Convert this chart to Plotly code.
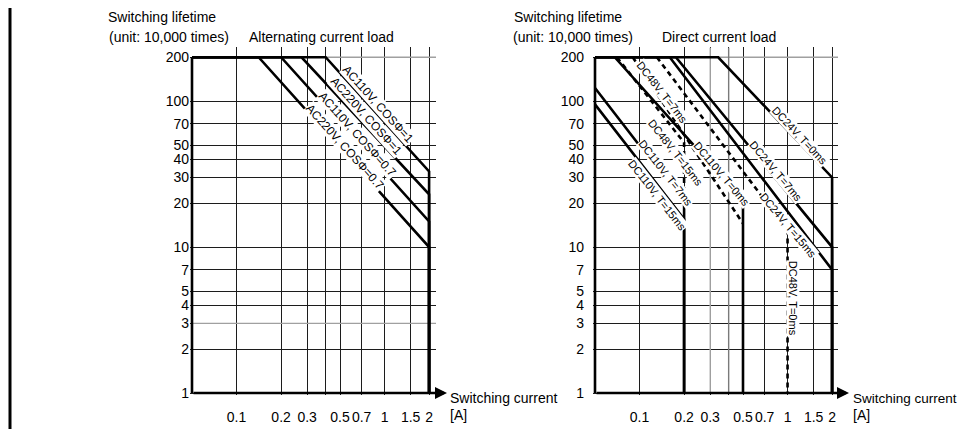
import numpy as np
import plotly.graph_objects as go

# ---------------- data ----------------
x_ticks = [0.1, 0.2, 0.3, 0.4, 0.5, 0.7, 1, 1.5, 2]
x_tick_labels = ["0.1", "0.2", "0.3", "", "0.5", "0.7", "1", "1.5", "2"]
y_ticks = [1, 2, 3, 4, 5, 7, 10, 20, 30, 40, 50, 70, 100, 200]
y_tick_labels = ["1", "2", "3", "4", "5", "7", "10", "20", "30", "40", "50", "70", "100", "200"]

# Alternating current load (switching current [A], lifetime [10^4 times])
ac110_cos1_x = [0.05, 0.4, 2, 2]
ac110_cos1_y = [200, 200, 33, 1]
ac220_cos1_x = [0.05, 0.275, 2, 2]
ac220_cos1_y = [200, 200, 23, 1]
ac110_cos07_x = [0.05, 0.2, 2, 2]
ac110_cos07_y = [200, 200, 15, 1]
ac220_cos07_x = [0.05, 0.141, 2, 2]
ac220_cos07_y = [200, 200, 10, 1]

# Direct current load
dc24_t0_x = [0.05, 0.34, 2, 2]
dc24_t0_y = [200, 200, 30, 1]
dc24_t7_x = [0.05, 0.176, 2, 2]
dc24_t7_y = [200, 200, 10, 1]
dc24_t15_x = [0.05, 0.16, 2, 2]
dc24_t15_y = [200, 200, 7, 1]
dc110_t0_x = [0.05, 0.068, 0.5, 0.5]
dc110_t0_y = [200, 200, 21, 1]
dc110_t7_x = [0.05, 0.2, 0.2]
dc110_t7_y = [123, 20, 1]
dc110_t15_x = [0.05, 0.2, 0.2]
dc110_t15_y = [95, 15.5, 1]
dc48_t0_x = [0.131, 1, 1]
dc48_t0_y = [200, 13, 1]
dc48_t7_x = [0.09, 0.5]
dc48_t7_y = [200, 14.5]
dc48_t15_x = [0.0704, 0.2, 0.2]
dc48_t15_y = [200, 52, 20]

# ---------------- layout helpers ----------------
# the page body has an 8px margin, so the figure is placed at (8, 8)
OX, OY = 8, 8
W, H = 965 - OX, 443 - 2 * OY
PX_DEC = 148.0
FONT = "Liberation Sans, Arial, sans-serif"


def px(x):
    return (x - OX) / W


def py(y):
    return (H - (y - OY)) / H


fig = go.Figure()

X_LO = np.log10(0.05) - 2 / PX_DEC
Y_LO = -2 / PX_DEC
Y_HI = (398.5 - 48) / PX_DEC
left_dom = [px(190), px(436)]
right_dom = [px(593), px(838)]
y_dom = [py(400.5), py(48)]

axis_common = dict(type="log", showgrid=True, gridcolor="#1c1c1c", gridwidth=1.3,
                   zeroline=False, showline=False, ticks="", tickangle=0,
                   tickfont=dict(family=FONT, size=14, color="black"))

fig.update_layout(
    width=W, height=H, margin=dict(l=0, r=0, t=0, b=0),
    paper_bgcolor="white", plot_bgcolor="white", showlegend=False,
    xaxis=dict(axis_common, domain=left_dom, range=[X_LO, X_LO + 246 / PX_DEC],
               tickvals=x_ticks, ticktext=x_tick_labels, anchor="y", ticklabelstandoff=12),
    yaxis=dict(axis_common, domain=y_dom, range=[Y_LO, Y_HI],
               tickvals=y_ticks, ticktext=y_tick_labels, anchor="x", ticklabelstandoff=0),
    xaxis2=dict(axis_common, domain=right_dom, range=[X_LO, X_LO + 245 / PX_DEC],
                tickvals=x_ticks, ticktext=x_tick_labels, anchor="y2", ticklabelstandoff=12),
    yaxis2=dict(axis_common, domain=y_dom, range=[Y_LO, Y_HI],
                tickvals=y_ticks, ticktext=y_tick_labels, anchor="x2", ticklabelstandoff=8),
)

GRAY = "#a0a0a0"


def line(xs, ys, ax, width=2.6, dash="solid", color="black"):
    xa, ya = ("x", "y") if ax == 1 else ("x2", "y2")
    fig.add_trace(go.Scatter(x=xs, y=ys, mode="lines", xaxis=xa, yaxis=ya,
                             line=dict(color=color, width=width, dash=dash),
                             hoverinfo="skip"))


X_TOP = 10 ** (X_LO + 246 / PX_DEC)
Y_TOP = 10 ** Y_HI
# lighter grid lines
line([0.05, X_TOP], [200, 200], 1, width=1.4, color=GRAY)
line([0.05, X_TOP], [3, 3], 1, width=1.4, color=GRAY)
line([0.05, X_TOP], [200, 200], 2, width=1.4, color=GRAY)
line([0.3, 0.3], [1, Y_TOP], 2, width=1.4, color="#b5b5b5")
line([0.4, 0.4], [1, Y_TOP], 2, width=1.4, color="#7a7a7a")

# axis lines
for a in (1, 2):
    line([0.05, 0.05], [1, 200], a, width=2.6)

# AC curves
line(ac110_cos1_x, ac110_cos1_y, 1)
line(ac220_cos1_x, ac220_cos1_y, 1)
line(ac110_cos07_x, ac110_cos07_y, 1)
line(ac220_cos07_x, ac220_cos07_y, 1)

# DC curves
line(dc24_t0_x, dc24_t0_y, 2)
line(dc24_t7_x, dc24_t7_y, 2)
line(dc24_t15_x, dc24_t15_y, 2)
line(dc110_t0_x, dc110_t0_y, 2)
line(dc110_t7_x, dc110_t7_y, 2)
line(dc110_t15_x, dc110_t15_y, 2)
line(dc48_t0_x, dc48_t0_y, 2, dash="5px,4px")
line(dc48_t7_x, dc48_t7_y, 2, dash="5px,4px")
line(dc48_t15_x, dc48_t15_y, 2, dash="5px,4px")

ann = []

# curve labels (positions in log units, layout only)
labels_left = [
    ("AC110V, COSΦ=1", -0.044, 1.983, 48),
    ("AC220V, COSΦ=1", -0.125, 1.895, 48),
    ("AC110V, COSΦ=0.7", -0.186, 1.774, 48),
    ("AC220V, COSΦ=0.7", -0.267, 1.686, 48),
]
for t, lx, ly, ang in labels_left:
    ann.append(dict(text=t, x=lx, y=ly, xref="x", yref="y", showarrow=False,
                    textangle=ang, bgcolor="white", borderpad=0,
                    font=dict(family=FONT, size=12, color="black")))

labels_right = [
    ("DC24V, T=0ms", 0.084, 1.760, 47),
    ("DC24V, T=7ms", -0.078, 1.524, 50),
    ("DC24V, T=15ms", 0.003, 1.152, 50),
    ("DC48V, T=0ms", 0.037, 0.652, 90),
    ("DC110V, T=0ms", -0.443, 1.503, 50),
    ("DC110V, T=7ms", -0.821, 1.510, 52),
    ("DC110V, T=15ms", -0.882, 1.355, 52),
    ("DC48V, T=7ms", -0.848, 2.064, 52),
    ("DC48V, T=15ms", -0.754, 1.645, 52),
]
for t, lx, ly, ang in labels_right:
    ann.append(dict(text=t, x=lx, y=ly, xref="x2", yref="y2", showarrow=False,
                    textangle=ang, bgcolor="white", borderpad=0,
                    font=dict(family=FONT, size=11, color="black")))


# titles
def txt(t, x, y, size=14, anchor="left"):
    ann.append(dict(text=t, x=px(x), y=py(y), xref="paper", yref="paper",
                    showarrow=False, xanchor=anchor, yanchor="middle",
                    font=dict(family=FONT, size=size, color="black")))


txt("Switching lifetime", 106, 17)
txt("(unit: 10,000 times)", 107, 37)
txt("Alternating current load", 247, 37)
txt("Switching lifetime", 512, 17)
txt("(unit: 10,000 times)", 511, 37)
txt("Direct current load", 660, 37)
txt("Switching current", 448, 404)
txt("[A]", 448, 421)
txt("Switching current", 851, 404, size=13.5)
txt("[A]", 851, 421)

# x-axis arrows
for x0, tip in ((192, 447), (595, 849)):
    ann.append(dict(text="", x=px(tip), y=py(398.5), xref="paper", yref="paper",
                    ax=x0 - tip, ay=0, axref="pixel", ayref="pixel",
                    showarrow=True, arrowhead=2, arrowsize=1, arrowwidth=2.4,
                    arrowcolor="black", standoff=0, startstandoff=0))

fig.update_layout(annotations=ann)

# frame line at left edge
fig.add_shape(type="line", xref="paper", yref="paper", x0=px(10), x1=px(10), y0=0, y1=1,
              line=dict(color="black", width=3))

fig.write_html("out.html")
